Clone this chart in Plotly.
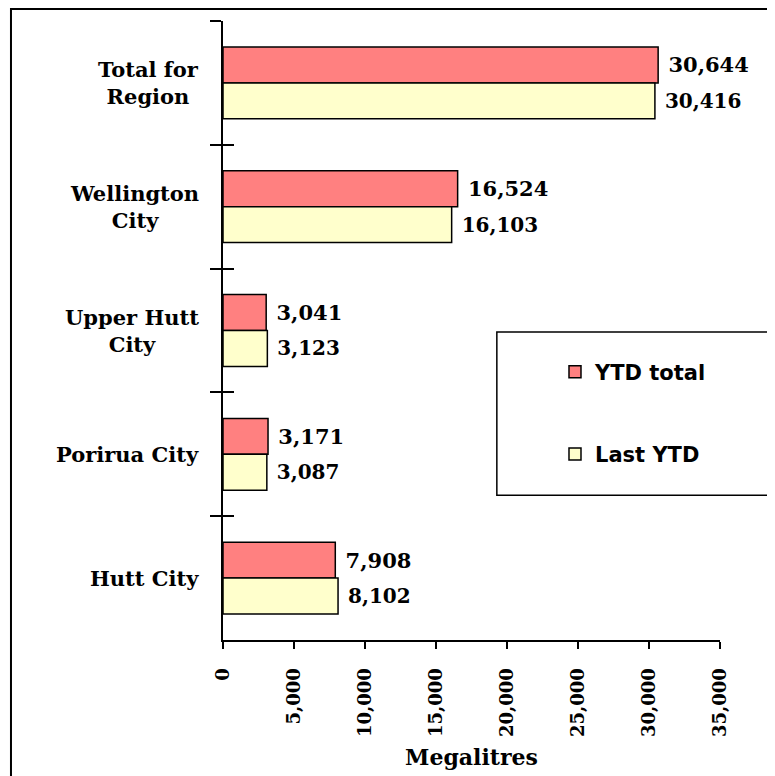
import plotly.graph_objects as go

categories = ["Total for Region", "Wellington City", "Upper Hutt City", "Porirua City", "Hutt City"]
category_labels = ["Total for<br>Region", "Wellington<br>City", "Upper Hutt<br>City", "Porirua City", "Hutt City"]
ytd_total = [30644, 16524, 3041, 3171, 7908]
last_ytd = [30416, 16103, 3123, 3087, 8102]
x_ticks = [0, 5000, 10000, 15000, 20000, 25000, 30000, 35000]
x_tick_labels = ["0", "5,000", "10,000", "15,000", "20,000", "25,000", "30,000", "35,000"]

SERIF = "DejaVu Serif, Liberation Serif, serif"
SANS = "DejaVu Sans, Liberation Sans, sans-serif"

fig = go.Figure()
fig.add_trace(go.Bar(
    y=categories, x=ytd_total, orientation="h", name="YTD total",
    marker=dict(color="#FF8080", line=dict(color="black", width=1.5)),
    texttemplate="\u00a0%{x:,}", textposition="outside",
    textfont=dict(family=SERIF, size=21, color="black", weight="bold"),
    cliponaxis=False, legendgroup="a",
))
fig.add_trace(go.Bar(
    y=categories, x=last_ytd, orientation="h", name="Last YTD",
    marker=dict(color="#FFFFCC", line=dict(color="black", width=1.5)),
    texttemplate="\u00a0%{x:,}", textposition="outside",
    textfont=dict(family=SERIF, size=20, color="black", weight="bold"),
    cliponaxis=False, legendgroup="b",
))
# invisible trace to carry inside category ticks
fig.add_trace(go.Scatter(
    y=categories, x=[0] * len(categories), yaxis="y2", mode="markers",
    marker=dict(opacity=0), showlegend=False, hoverinfo="skip",
))

for cat, lab in zip(categories, category_labels):
    fig.add_annotation(
        x=0, xref="paper", xshift=-22, xanchor="right",
        y=cat, yref="y", text=lab, showarrow=False, align="center",
        font=dict(family=SERIF, size=21, color="black", weight="bold"),
    )

# legend frame and outer frame
fig.add_shape(type="rect", xref="paper", yref="paper",
              x0=0.551, x1=1.099, y0=0.234, y1=0.4976,
              line=dict(color="black", width=1.5), fillcolor="white", layer="below")
fig.add_shape(type="rect", xref="paper", yref="paper",
              x0=-0.4266, x1=1.3, y0=-0.4, y1=1.0194,
              line=dict(color="black", width=2), layer="below")

fig.update_layout(
    width=775, height=776,
    margin=dict(l=215, r=63, t=13, b=144),
    paper_bgcolor="white", plot_bgcolor="rgba(0,0,0,0)",
    barmode="group", bargap=0.42, bargroupgap=0,
    showlegend=True,
    legend=dict(x=0.668, y=0.466, xanchor="left", yanchor="top",
                font=dict(family=SANS, size=21, color="black", weight="bold"),
                bgcolor="rgba(0,0,0,0)", tracegroupgap=52, traceorder="grouped"),
    xaxis=dict(range=[0, 35000], tickvals=x_ticks, ticktext=x_tick_labels,
               tickangle=-90, ticks="outside", ticklen=7, tickwidth=2, tickcolor="black",
               showline=True, linecolor="black", linewidth=2, showgrid=False, zeroline=False,
               tickfont=dict(family=SERIF, size=18, color="black", weight="bold"),
               ticklabelstandoff=12,
               title=dict(text="Megalitres", standoff=14,
                          font=dict(family=SERIF, size=22, color="black", weight="bold"))),
    yaxis=dict(categoryorder="array", categoryarray=categories, range=[4.5, -0.5],
               tickson="boundaries", ticks="outside", ticklen=11, tickwidth=2, tickcolor="black",
               showticklabels=False, showline=True, linecolor="black", linewidth=2,
               showgrid=False, zeroline=False),
    yaxis2=dict(overlaying="y", side="left", categoryorder="array", categoryarray=categories,
                range=[4.5, -0.5], tickson="boundaries", ticks="inside", ticklen=11,
                tickwidth=2, tickcolor="black", showticklabels=False, showline=False,
                showgrid=False, zeroline=False),
)

fig.write_html("out.html")
